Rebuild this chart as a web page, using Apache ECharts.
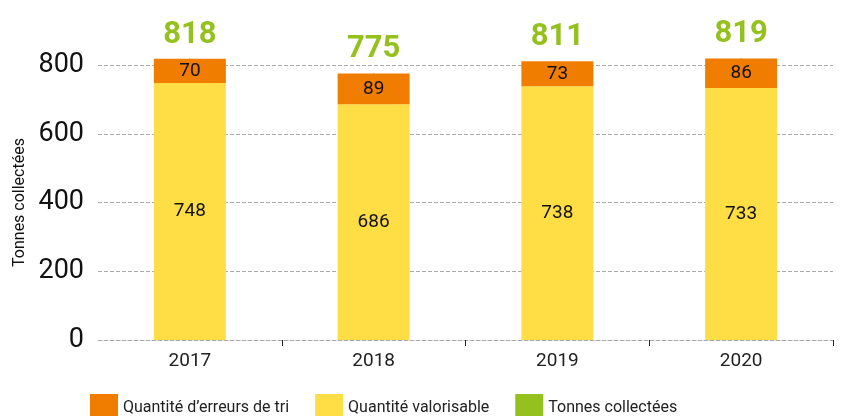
<!DOCTYPE html>
<html>
<head>
<meta charset="utf-8">
<script src="https://cdn.jsdelivr.net/npm/echarts@6/dist/echarts.min.js"></script>
<style>
html,body{margin:0;padding:0;background:#fff;}
#chart{width:851px;height:416px;}
</style>
</head>
<body>
<div id="chart"></div>
<script>
var years = ['2017', '2018', '2019', '2020'];
var erreurs = [70, 89, 73, 86];
var valorisable = [748, 686, 738, 733];
var collectees = [818, 775, 811, 819];
var yTicks = [0, 200, 400, 600, 800];

var FONT = 'Roboto, sans-serif';
var chart = echarts.init(document.getElementById('chart'));

chart.setOption({
    animation: false,
    grid: {left: 98, right: 18, top: 65, bottom: 76},
    legend: {
        left: 85,
        top: 389,
        itemWidth: 28,
        itemHeight: 28,
        itemGap: 26,
        icon: 'rect',
        textStyle: {fontFamily: FONT, fontSize: 16, color: '#222'},
        data: ['Quantité d\u2019erreurs de tri', 'Quantité valorisable', 'Tonnes collectées']
    },
    xAxis: {
        type: 'category',
        data: years,
        axisLine: {lineStyle: {color: '#aaa', type: 'dashed'}},
        axisTick: {
            show: true,
            // only the ticks between the years
            interval: function (i) { return i > 0 && i < years.length; },
            length: 6,
            lineStyle: {color: '#222'}
        },
        axisLabel: {fontFamily: FONT, fontSize: 19, color: '#222', margin: 12}
    },
    yAxis: {
        type: 'value',
        min: yTicks[0],
        max: yTicks[yTicks.length - 1],
        interval: 200,
        name: 'Tonnes collectées',
        nameLocation: 'middle',
        nameGap: 62,
        nameRotate: 90,
        nameTextStyle: {fontFamily: FONT, fontSize: 16, color: '#111'},
        axisLine: {show: false},
        axisTick: {show: false},
        axisLabel: {fontFamily: FONT, fontSize: 27, color: '#111', margin: 14},
        splitLine: {lineStyle: {color: '#aaa', type: 'dashed'}}
    },
    series: [
        {
            name: 'Quantité valorisable',
            type: 'bar',
            stack: 'total',
            barWidth: 72,
            clip: false,
            data: valorisable,
            itemStyle: {color: '#fede44'},
            label: {show: true, position: 'inside', fontFamily: FONT, fontSize: 19, color: '#111'}
        },
        {
            name: 'Quantité d\u2019erreurs de tri',
            type: 'bar',
            stack: 'total',
            barWidth: 72,
            clip: false,
            data: erreurs,
            itemStyle: {color: '#f07d00'},
            label: {show: true, position: 'inside', fontFamily: FONT, fontSize: 19, color: '#111'}
        },
        {
            name: 'Tonnes collectées',
            type: 'scatter',
            data: collectees,
            symbolSize: 1,
            clip: false,
            z: 1,
            itemStyle: {color: '#95c11f', opacity: 1},
            label: {
                show: true,
                position: 'top',
                distance: 8,
                fontFamily: FONT,
                fontWeight: 'bold',
                fontSize: 31,
                color: '#95c11f'
            }
        }
    ]
});
</script>
</body>
</html>
